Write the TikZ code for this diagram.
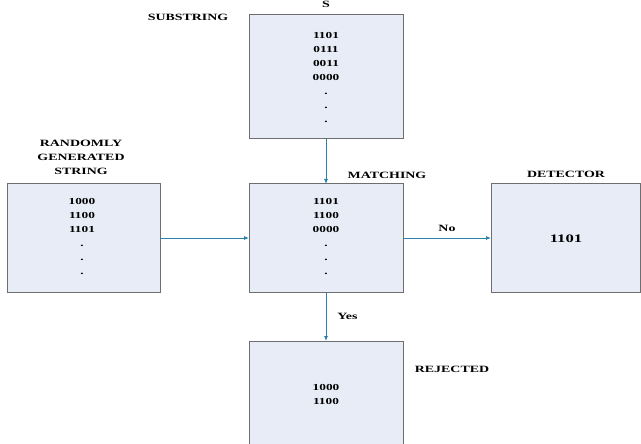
\documentclass[tikz,border=0pt]{standalone}
\usepackage{fontspec}
\setmainfont{Liberation Serif}
\newfontfamily\widefont[FakeStretch=1.45]{Liberation Serif}
\usetikzlibrary{arrows.meta}
\definecolor{boxfill}{HTML}{E7ECF6}
\definecolor{boxline}{HTML}{6E6E6E}
\definecolor{flow}{HTML}{2C80AA}
\tikzset{
  blk/.style={draw=boxline, fill=boxfill, line width=1pt},
  lbl/.style={font=\widefont\bfseries\fontsize{9.6}{14}\selectfont, inner sep=0pt},
  content/.style={font=\widefont\bfseries\fontsize{9.2}{13.9}\selectfont, align=center, inner sep=0pt, anchor=north},
  flowarrow/.style={draw=flow, line width=0.8pt, -{Latex[length=5pt,width=4pt]}}
}
\begin{document}
\begin{tikzpicture}[x=1pt,y=-1pt]
\useasboundingbox (0,0) rectangle (641,444);
% boxes
\draw[blk] (249,15) rectangle (403,139);
\draw[blk] (7,184) rectangle (160,292);
\draw[blk] (249,184) rectangle (403,292);
\draw[blk] (491,184) rectangle (640,292);
\draw[blk] (249,341) rectangle (403,448);
% anchor points for the connectors
\coordinate (sBot) at (326,139);
\coordinate (mTop) at (326,184);
\coordinate (rRight) at (160,238);
\coordinate (mLeft) at (249,238);
\coordinate (mRight) at (403,238);
\coordinate (dLeft) at (491,238);
\coordinate (mBot) at (326,292);
\coordinate (jTop) at (326,341);
% contents
\node[content] (sText) at (326,32.5) {1101\\0111\\0011\\0000\\.\\.\\.};
\node[content] (rText) at (82,198.5) {1000\\1100\\1101\\.\\.\\.};
\node[content] (mText) at (326,198.5) {1101\\1100\\0000\\.\\.\\.};
\node[lbl, font=\widefont\bfseries\fontsize{11.5}{13}\selectfont] (dText) at (566,239) {1101};
\node[content] (jText) at (326,384) {1000\\1100};
% titles
\node[lbl] (sTitle) at (326,4) {S};
\node[lbl] (subTitle) at (188,17) {SUBSTRING};
\node[lbl, align=center] (rTitle) at (81,157) {RANDOMLY\\GENERATED\\STRING};
\node[lbl] (mTitle) at (387,175) {MATCHING};
\node[lbl] (dTitle) at (566,174) {DETECTOR};
\node[lbl] (jTitle) at (452,369) {REJECTED};
% connectors
\draw[flowarrow] (sBot) -- (mTop);
\draw[flowarrow] (rRight) -- (mLeft);
\draw[flowarrow] (mRight) -- node[lbl, above=6pt] (noLbl) {No} (dLeft);
\draw[flowarrow] (mBot) -- node[lbl, right=11pt] (yesLbl) {Yes} (jTop);
\end{tikzpicture}
\end{document}
